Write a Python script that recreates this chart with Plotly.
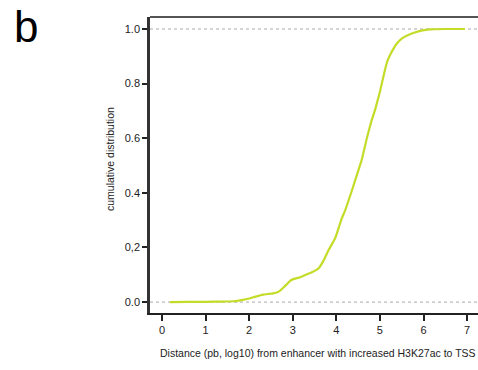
import plotly.graph_objects as go

# Data (log10 distance, cumulative fraction)
dist_log10 = [0.18, 0.6, 1.0, 1.4, 1.64, 1.85, 2.02, 2.15, 2.32, 2.45, 2.55, 2.65, 2.71,
              2.8, 2.94, 3.01, 3.1, 3.17, 3.3, 3.45, 3.59, 3.7, 3.82, 3.97, 4.05, 4.12,
              4.2, 4.27, 4.35, 4.45, 4.58, 4.7, 4.8, 4.89, 5.0, 5.1, 5.17, 5.25, 5.38,
              5.5, 5.65, 5.8, 5.95, 6.15, 6.5, 6.95]
cum_frac = [0.0, 0.0005, 0.001, 0.002, 0.003, 0.008, 0.014, 0.02, 0.027, 0.03, 0.032, 0.036, 0.042,
            0.055, 0.078, 0.084, 0.088, 0.091, 0.1, 0.11, 0.123, 0.15, 0.19, 0.233, 0.27, 0.305,
            0.335, 0.367, 0.405, 0.455, 0.52, 0.6, 0.66, 0.705, 0.77, 0.84, 0.882, 0.91, 0.945,
            0.965, 0.978, 0.987, 0.994, 0.999, 1.0, 1.0]

x_ticks = [0, 1, 2, 3, 4, 5, 6, 7]
y_ticks = [0.0, 0.2, 0.4, 0.6, 0.8, 1.0]
y_ticklabels = ["0.0", "0,2", "0.4", "0.6", "0.8", "1.0"]

font_family = "Liberation Sans, Arial, sans-serif"
line_color = "rgb(196,220,40)"

fig = go.Figure()
fig.add_trace(go.Scatter(x=dist_log10, y=cum_frac, mode="lines",
                         line=dict(color=line_color, width=2.2, shape="spline", smoothing=0.4),
                         showlegend=False, hoverinfo="skip"))

for yv in [0.0, 1.0]:
    fig.add_shape(type="line", xref="paper", yref="y", x0=0, x1=1, y0=yv, y1=yv,
                  line=dict(color="#aaaaaa", width=1, dash="3px,3px"), layer="below")

# top frame line
fig.add_shape(type="line", xref="paper", yref="paper", x0=0, x1=1, y0=1, y1=1,
              line=dict(color="#555555", width=2))

fig.update_layout(
    width=478, height=370,
    margin=dict(l=150, r=0, t=17, b=57),
    paper_bgcolor="white", plot_bgcolor="white",
    font=dict(family=font_family, size=11, color="#222222"),
    xaxis=dict(range=[-0.275, 7.25], tickvals=x_ticks, ticktext=[str(v) for v in x_ticks],
               ticks="outside", ticklen=6, tickwidth=1.5, tickcolor="#222222",
               showline=True, linecolor="#222222", linewidth=2, showgrid=False, zeroline=False,
               tickfont=dict(size=11), mirror=False),
    yaxis=dict(range=[-0.040, 1.044], tickvals=y_ticks, ticktext=y_ticklabels,
               ticks="outside", ticklen=5, tickwidth=1.5, tickcolor="#222222",
               showline=True, linecolor="#333333", linewidth=2.5, showgrid=False, zeroline=False,
               tickfont=dict(size=11)),
    annotations=[
        dict(text="b", xref="paper", yref="paper", x=-150/328, y=1 + 17/296,
             xanchor="left", yanchor="top", xshift=12, yshift=0, showarrow=False,
             font=dict(size=44, color="black", family=font_family)),
        dict(text="cumulative distribution", xref="paper", yref="paper",
             x=-40/328, y=(313 - 159) / 296, textangle=-90, showarrow=False,
             xanchor="center", yanchor="middle", font=dict(size=10.5, color="#222222")),
        dict(text="Distance (pb, log10) from enhancer with increased H3K27ac to TSS",
             xref="paper", yref="paper", x=(318 - 150) / 328, y=-(353 - 313) / 296,
             showarrow=False, xanchor="center", yanchor="middle",
             font=dict(size=10.5, color="#222222")),
    ],
)

fig.write_html("out.html", config={"displayModeBar": False},
               post_script="document.body.style.margin='0';")
